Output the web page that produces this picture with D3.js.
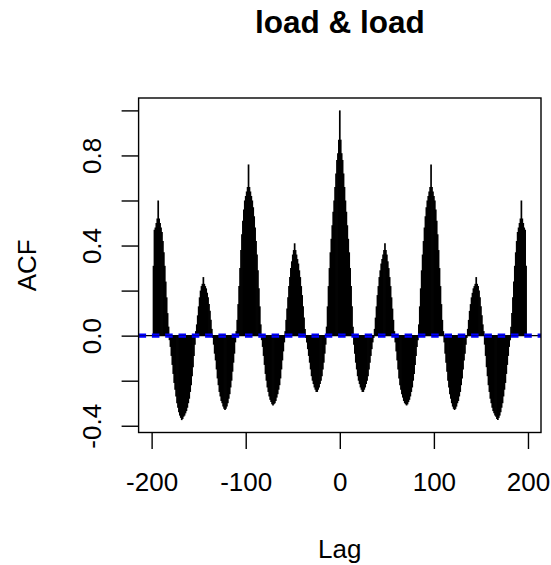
<!DOCTYPE html>
<html>
<head>
<meta charset="utf-8">
<script src="https://cdnjs.cloudflare.com/ajax/libs/d3/7.8.5/d3.min.js"></script>
<style>
body{margin:0;background:#fff;}
svg{display:block;}
text{font-family:"Liberation Sans",Arial,sans-serif;fill:#000;}
</style>
</head>
<body>
<script>
let title="load & load";
let xTitle="Lag";
let yTitle="ACF";

// ccf of load with itself, lag 0..198 (symmetric, negative lags reuse it)
let acfPos=[1.00,0.87,0.81,0.78,0.72,0.66,0.60,0.55,0.49,0.43,0.37,0.30,0.22,0.13,0.04,
-0.04,-0.08,-0.12,-0.15,-0.18,-0.20,-0.215,-0.23,-0.24,-0.25,-0.25,-0.24,-0.23,-0.215,-0.20,-0.18,-0.15,-0.12,-0.09,-0.06,-0.03,-0.01,
0.03,0.08,0.13,0.18,0.22,0.26,0.29,0.32,0.34,0.36,0.38,0.41,0.38,0.36,0.33,0.30,0.26,0.22,0.17,0.12,0.07,0.02,
-0.03,-0.07,-0.11,-0.15,-0.19,-0.22,-0.24,-0.26,-0.275,-0.29,-0.30,-0.305,-0.31,-0.305,-0.295,-0.285,-0.27,-0.25,-0.23,-0.20,-0.17,-0.13,-0.09,-0.05,-0.02,
0.05,0.13,0.21,0.29,0.36,0.42,0.48,0.53,0.57,0.60,0.62,0.64,0.66,0.76,0.66,0.64,0.62,0.60,0.56,0.51,0.45,0.38,0.30,0.22,0.14,0.07,0.02,
-0.03,-0.08,-0.12,-0.16,-0.20,-0.23,-0.26,-0.28,-0.30,-0.315,-0.325,-0.33,-0.325,-0.315,-0.30,-0.29,-0.27,-0.25,-0.22,-0.19,-0.15,-0.11,-0.08,-0.04,-0.01,
0.03,0.07,0.11,0.14,0.17,0.19,0.21,0.22,0.23,0.26,0.23,0.22,0.20,0.17,0.13,0.09,0.05,0.02,
-0.04,-0.09,-0.14,-0.18,-0.22,-0.25,-0.28,-0.30,-0.32,-0.335,-0.345,-0.355,-0.36,-0.37,-0.375,-0.365,-0.355,-0.34,-0.32,-0.30,-0.27,-0.24,-0.21,-0.17,-0.13,-0.09,-0.05,-0.02,
0.04,0.10,0.17,0.24,0.31,0.37,0.42,0.46,0.48,0.50,0.52,0.60,0.52,0.50,0.48,0.47,0.31];

let clim=0.005; // 95% band, practically on the zero line
let xTicks=[-200,-100,0,100,200];
let yTicks=[-0.4,-0.2,0,0.2,0.4,0.6,0.8,1.0];
let yLabels=[-0.4,0,0.4,0.8];

let lags=[],acf=[];
for(let i=acfPos.length-1;i>0;i--){lags.push(-i);acf.push(acfPos[i]);}
for(let i=0;i<acfPos.length;i++){lags.push(i);acf.push(acfPos[i]);}
let dat=lags.map((l,i)=>[l,acf[i]]);

let w=551,h=565;
let padL=138.6,padR=541,padT=98,padB=432.5;

let svg=d3.select("body").append("svg").attr("width",w).attr("height",h);

// R style 4% padding on both axes
let xr=d3.extent(lags),xp=0.04*(xr[1]-xr[0]);
let yr=[Math.min(d3.min(acf),-clim),Math.max(d3.max(acf),clim)],yp=0.04*(yr[1]-yr[0]);
let xScale=d3.scaleLinear().domain([xr[0]-xp,xr[1]+xp]).range([padL,padR]);
let yScale=d3.scaleLinear().domain([yr[0]-yp,yr[1]+yp]).range([padB,padT]);

// vertical lines (type="h")
svg.append("g").selectAll("line").data(dat).enter().append("line")
  .attr("x1",d=>xScale(d[0])).attr("x2",d=>xScale(d[0]))
  .attr("y1",yScale(0)).attr("y2",d=>yScale(d[1]))
  .attr("stroke","#000").attr("stroke-width",1.7);

// zero line + confidence band
svg.append("line").attr("x1",padL).attr("x2",padR).attr("y1",yScale(0)).attr("y2",yScale(0))
  .attr("stroke","#000").attr("stroke-width",1.3);
[clim,-clim].forEach(c=>{
  svg.append("line").attr("x1",padL).attr("x2",padR).attr("y1",yScale(c)).attr("y2",yScale(c))
    .attr("stroke","#0000ff").attr("stroke-width",1.8).attr("stroke-dasharray","7.5,5.8");
});

// box
svg.append("rect").attr("x",padL).attr("y",padT).attr("width",padR-padL).attr("height",padB-padT)
  .attr("fill","none").attr("stroke","#000").attr("stroke-width",1.4);

let xAxis=d3.axisBottom(xScale).tickValues(xTicks).tickSize(16.5).tickFormat(d=>String(d));
let gx=svg.append("g").attr("transform","translate(0,"+padB+")").call(xAxis);
gx.select(".domain").remove();
gx.selectAll(".tick line").attr("stroke","#000").attr("stroke-width",1.4);
gx.selectAll("text").attr("y",58.5).attr("dy",null).style("font-size","26px").attr("fill","#000");

let yAxis=d3.axisLeft(yScale).tickValues(yTicks).tickSize(17)
  .tickFormat(d=>yLabels.some(v=>Math.abs(v-d)<1e-9)?d.toFixed(1):"");
let gy=svg.append("g").attr("transform","translate("+padL+",0)").call(yAxis);
gy.select(".domain").remove();
gy.selectAll(".tick line").attr("stroke","#000").attr("stroke-width",1.4);
gy.selectAll("text").attr("x",null).attr("dy",null).attr("text-anchor","middle")
  .attr("transform","translate(-37.5,0) rotate(-90)").style("font-size","26px").attr("fill","#000");

svg.append("text").text(title).attr("x",(padL+padR)/2).attr("y",33).attr("text-anchor","middle")
  .style("font-size","31.5px").style("font-weight","bold");
svg.append("text").text(xTitle).attr("x",(padL+padR)/2).attr("y",558).attr("text-anchor","middle")
  .style("font-size","26px");
svg.append("text").text(yTitle).attr("text-anchor","middle")
  .attr("transform","translate(35.5,"+((padT+padB)/2)+") rotate(-90)").style("font-size","26px");
</script>
</body>
</html>
